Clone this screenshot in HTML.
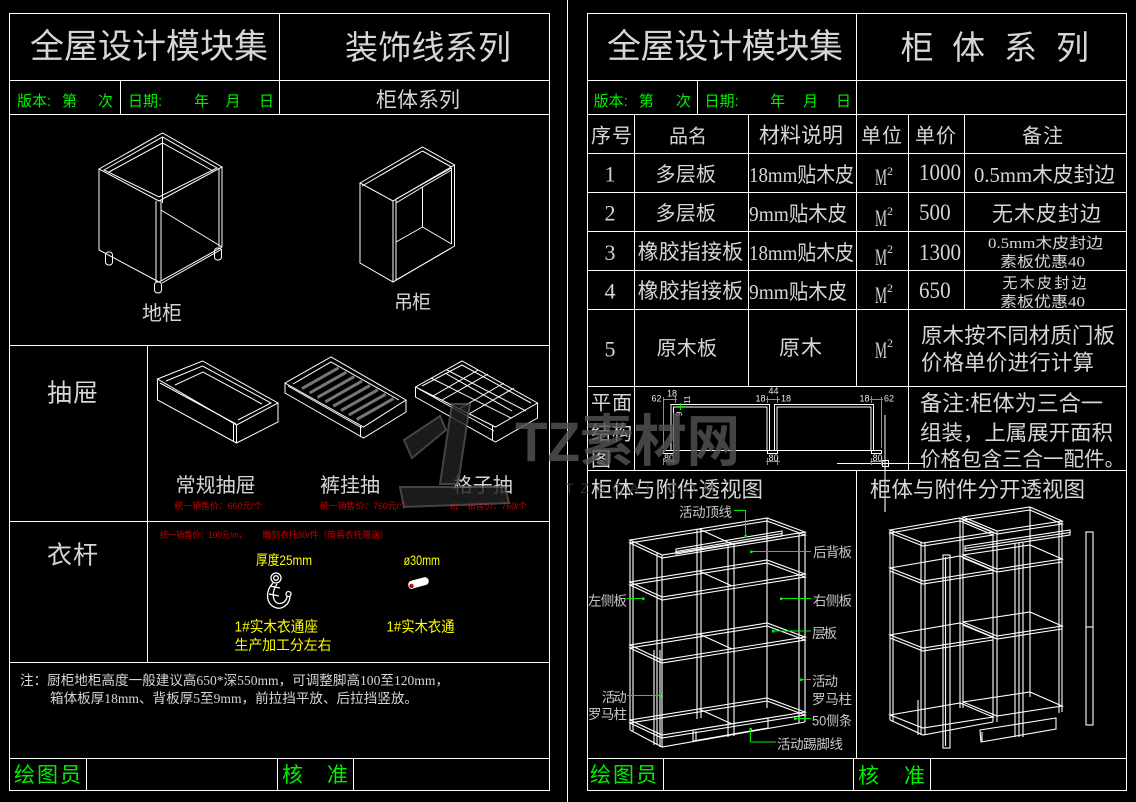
<!DOCTYPE html>
<html><head><meta charset="utf-8">
<style>
html,body{margin:0;padding:0;background:#000;}
svg{display:block;}
.w{fill:#d6d6d6;font-family:"Liberation Sans","Noto Sans CJK SC",sans-serif;}
.s{fill:#d6d6d6;font-family:"Liberation Serif","Noto Sans CJK SC",serif;}
.g{fill:#00f000;font-family:"Liberation Sans","Noto Sans CJK SC",sans-serif;}
.y{fill:#ffff00;font-family:"Liberation Sans","Noto Sans CJK SC",sans-serif;}
.r{fill:#c80000;font-family:"Liberation Sans","Noto Sans CJK SC",sans-serif;}
.l{fill:#c8c8c8;font-family:"Liberation Sans","Noto Sans CJK SC",sans-serif;}
.d{fill:#e8e8e8;font-family:"Liberation Sans",sans-serif;}
</style></head>
<body>
<svg width="1136" height="802" viewBox="0 0 1136 802" xmlns="http://www.w3.org/2000/svg">
<rect x="0" y="0" width="1136" height="802" fill="#000"/>

<!-- ===== frame lines ===== -->
<g stroke="#fff" stroke-width="1" fill="none">
<rect x="9.5" y="13.5" width="540" height="777"/>
<path d="M9 80.5H549 M9 114.5H549 M279.5 13V114 M120.5 80V114 M9 345.5H549 M147.5 345V662 M9 521.5H549 M9 662.5H549 M9 758.5H549 M86.5 758V790 M277.5 758V790 M353.5 758V790"/>
<path d="M567.5 0V802"/>
<rect x="587.5" y="13.5" width="539" height="777"/>
<path d="M587 80.5H1126 M587 114.5H1126 M856.5 13V114 M697.5 80V114 M587 153.5H1126 M587 192.5H1126 M587 231.5H1126 M587 270.5H1126 M587 309.5H1126 M587 386.5H1126 M634.5 114V470 M748.5 114V387 M856.5 114V387 M908.5 114V470 M964.5 114V309 M587 470.5H1126 M856.5 470V758 M587 758.5H1126 M663.5 758V790 M853.5 758V790 M930.5 758V790"/>
</g>

<!-- ===== 地柜 ===== -->
<g stroke="#fff" stroke-width="1" fill="none">
<path d="M99 169 L162.5 133 L222 167 L159 201 Z"/>
<path d="M104 170 L162.5 137 L217 168 L159 197 Z"/>
<path d="M109 172 L162.5 143 L213 171"/>
<path d="M99 169 V250 L159 282 L222 247 V167"/>
<path d="M156 201 V282 M161 200 V281"/>
<path d="M162 283 L222 249 M219 169 V247"/>
<path d="M162.5 137 V203 M161 210 L222 247"/>
<rect x="105.5" y="252" width="7" height="13" rx="3"/>
<rect x="154.5" y="282" width="7" height="11" rx="3"/>
<rect x="214.5" y="248" width="7" height="12" rx="3"/>
</g>

<!-- ===== 吊柜 ===== -->
<g stroke="#fff" stroke-width="1" fill="none">
<path d="M360 183 L422.5 147 L454.5 165 L393 201 Z"/>
<path d="M362 186 L422.5 151 L451.5 167 M396 199 L451.5 168"/>
<path d="M360 183 V263 L393 282 L454.5 246 V165"/>
<path d="M393 201 V282 M396 200 V280 M451.5 168 V244 M396 280 L451.5 248"/>
<path d="M422.5 187 V227 L396 242 M422.5 227 L451.5 244 M422.5 187 L451.5 170 M422.5 187 L396 203"/>
</g>

<!-- ===== drawers ===== -->
<g stroke="#fff" stroke-width="1" fill="none">
<path d="M157.5 379 L202.5 361 L278 403 L236.5 425 Z"/>
<path d="M157.5 379 V400 L236.5 443 L278 422 V403"/>
<path d="M233.5 424 V441 M236.5 425 V443 M160 383 L236 424"/>
<path d="M166 381 L202.5 366 L271 403 L238 420"/>
<path d="M175 385 L203 372 L262 404"/>
<path d="M285 383 L331 357 L406 400 L363.5 427 Z"/>
<path d="M285 383 V393 L363.5 438 L406 412 V400"/>
<path d="M360.5 426 V437 M288 386 L362 428 M293 384 L331 362 L399 400"/>
<path d="M415.5 387 L462 361 L537.5 403 L495.5 427 Z"/>
<path d="M415.5 387 V397 L495.5 442 L537.5 418 V403"/>
<path d="M492.5 426 V440 M419 389 L494 431 M422 386 L462 365 L531 403"/>
<path d="M431 378 L511 418 M447 370 L526 411 M442 400 L488 374 M469 414 L514 388"/>
<path d="M445 373 L512 411 M433 396 L478 370 M459 409 L504 383"/>
</g>
<g stroke="#777" stroke-width="3">
<path d="M302 388.6 L338.6 367.8 M309.6 393 L346.4 372.2 M317.5 397.4 L354.3 376.6 M325.3 401.8 L362.1 381 M333.2 406.2 L370 385.4 M341 410.6 L377.8 389.8 M348.9 415 L385.7 394.2 M356.7 419.4 L393.5 398.6"/>
</g>

<!-- ===== hook & rod ===== -->
<g stroke="#fff" stroke-width="1.3" fill="none">
<circle cx="276" cy="578" r="5"/><circle cx="276" cy="578" r="2.3"/>
<path d="M273 583 C266 590 265 602 274 607 C282 611 290 604 290 596"/>
<path d="M277 584 C272 591 272 600 277 603 C283 605 287 600 287 596"/>
<circle cx="288.5" cy="594" r="2.5"/>
<path d="M270 586 L280 588 M269 594 L279 596"/>
</g>
<g transform="rotate(-15 418 583)"><rect x="408" y="579" width="21" height="8" rx="4" fill="#fff"/></g>
<circle cx="411.5" cy="586" r="2.6" fill="#d00000" stroke="#fff" stroke-width="0.8"/>

<!-- ===== plan drawing ===== -->
<g stroke="#fff" stroke-width="1" fill="none">
<path d="M671 450V404.5H769.5V450 M673.5 450V407H767V450 M774.5 450V404.5H873.5V450 M777 450V407H871V450"/>
<path d="M663 450.5H882"/>
<rect x="663.5" y="450.5" width="10" height="3"/>
<rect x="767.5" y="450.5" width="10" height="3"/>
<rect x="871.5" y="450.5" width="10" height="3"/>
<path d="M885 415V512 M837 463.5H924"/>
<rect x="882.5" y="460.5" width="6" height="6"/>
</g>
<g stroke="#00f000" stroke-width="1" fill="none">
<path d="M663.5 397V448 M663.5 399.5H677 M881.5 397V448 M870 399.5H883 M766 399.5H780 M663 461.5H677 M766 461.5H780 M870 461.5H884"/>
<path d="M675.5 396V403 M767.5 396V403 M777.5 396V403 M871.5 396V403 M663.5 458V465 M673.5 458V465 M767.5 458V465 M777.5 458V465 M871.5 458V465 M881.5 458V465"/>
<path d="M677 406.5H685 M680.5 403V410"/>
</g>
<g class="d" font-size="9">
<text x="651.5" y="401.5">62</text>
<text x="667" y="396.5">18</text>
<text x="755.5" y="401.5">18</text>
<text x="768.5" y="394">44</text>
<text x="781" y="401.5">18</text>
<text x="859.5" y="401.5">18</text>
<text x="884" y="401.5">62</text>
<text x="664" y="461">80</text>
<text x="768.5" y="461">80</text>
<text x="872.5" y="461">80</text>
<text x="690" y="404" transform="rotate(-90 690 404)" font-size="8">11</text>
<text x="682" y="416" transform="rotate(-90 682 416)" font-size="8">9</text>
</g>

<!-- ===== wardrobe perspective (assembled) ===== -->
<g stroke="#fff" stroke-width="1.1" fill="none">
<path d="M630 540 L662 555 L805 532 L767 518 Z"/>
<path d="M630 543 L662 558 L805 535 L767 521 Z"/>
<path d="M630 540V730 M633 541V731 M657 553V745 M662 555V747 M697 529V719 M701 528V718 M728 545V737 M734 544V736 M767 518V708 M799 533V723 M805 532V722"/>
<path d="M630 582 L662 597 L805 574 L767 560 Z M630 585 L662 600 L805 577 L767 563 Z"/>
<path d="M630 645 L662 660 L805 637 L767 623 Z M630 648 L662 663 L805 640 L767 626 Z"/>
<path d="M630 720 L662 735 L805 712 L767 698 Z M630 723 L662 738 L805 715 L767 701 Z"/>
<path d="M630 730 L662 747 L805 722"/>
<path d="M699 529 L732 544 M699 571 L732 586 M699 634 L732 649 M699 709 L732 724"/>
<path d="M676 549 L782 531 L782 536 L676 554 Z M676 551.5 L782 533.5"/>
<path d="M693 730 L768 718 L768 728 L693 741 Z M696 731 V740"/>
<path d="M654 650 V745 M660 650 V747"/>
</g>
<g stroke="#00f000" stroke-width="1" fill="none">
<path d="M734 510.5H745.5V536 M751 551.5H811 M627 598.5H643 M781 598.5H811 M773 631H811 M801 679.5H811 M627 695.5H660 M795 718.5H811 M750.5 729V742H776"/>
</g>
<g fill="#00f000">
<rect x="744.5" y="535" width="2.5" height="2.5"/><rect x="750" y="550.5" width="2.5" height="2.5"/><rect x="642" y="597.5" width="2.5" height="2.5"/><rect x="780" y="597.5" width="2.5" height="2.5"/><rect x="772" y="630" width="2.5" height="2.5"/><rect x="800" y="678.5" width="2.5" height="2.5"/><rect x="659" y="694.5" width="2.5" height="2.5"/><rect x="794" y="717.5" width="2.5" height="2.5"/><rect x="749.5" y="728" width="2.5" height="2.5"/>
</g>

<!-- ===== wardrobe perspective (exploded) ===== -->
<g stroke="#fff" stroke-width="1.1" fill="none">
<path d="M890 530 L923 543 L993 532 L960 518 Z M890 533 L923 546 L993 535 L960 521 Z"/>
<path d="M890 530V720 M893 531V721 M921 542V735 M925 543V735 M960 518V708 M963 517V708 M993 532V722 M997 531V722"/>
<path d="M890 568 L923 581 L993 570 L960 556 Z M890 571 L923 584 L993 573"/>
<path d="M890 635 L923 648 L993 637 L960 623 Z M890 638 L923 651 L993 640"/>
<path d="M890 715 L923 728 L993 717 L960 703 Z"/>
<path d="M890 720 L923 735 L993 722"/>
<path d="M963 517 L997 531 L1062 521 L1030 507 Z M963 520 L997 534 L1062 524 L1030 510 Z"/>
<path d="M1030 507V697 M1059 522V713 M1062 521V712 M1015 543V737 M1019 543V737 M1023 543V737"/>
<path d="M963 555 L997 569 L1062 559 L1030 545 Z M963 558 L997 572 L1062 562"/>
<path d="M963 622 L997 636 L1062 626 L1030 612 Z M963 625 L997 639 L1062 629"/>
<path d="M963 702 L997 716 L1062 706 L1030 692 Z"/>
<rect x="943" y="555" width="7" height="193"/>
<path d="M945.5 557V746"/>
<rect x="1086" y="532" width="7" height="193"/>
<path d="M1086 627H1093"/>
<path d="M965 546 L1070 530 L1070 535 L965 551 Z M965 548.5 L1070 532.5"/>
<path d="M980 730 L1056 718 L1056 729 L981 742 Z M982 732 V741"/>
<path d="M918 700 V735 M885 500 V512"/>
</g>

<!-- ===== LEFT texts ===== -->
<text class="w" x="30" y="58" font-size="34" textLength="238">全屋设计模块集</text>
<text class="w" x="345" y="59" font-size="33" textLength="166">装饰线系列</text>
<g class="g" font-size="15">
<text x="17" y="106">版本:</text><text x="62" y="106">第</text><text x="98" y="106">次</text>
<text x="128" y="106">日期:</text><text x="194" y="106">年</text><text x="225.5" y="106">月</text><text x="259" y="106">日</text>
</g>
<text class="w" x="376" y="107" font-size="21" textLength="84">柜体系列</text>
<text class="w" x="142" y="320" font-size="20" textLength="40">地柜</text>
<text class="w" x="394" y="308.5" font-size="19" textLength="37">吊柜</text>
<text class="w" x="47" y="401.5" font-size="25" textLength="51">抽屉</text>
<text class="w" x="175.6" y="492" font-size="20" textLength="80">常规抽屉</text>
<text class="w" x="320" y="492" font-size="20" textLength="60">裤挂抽</text>
<text class="w" x="452.7" y="492" font-size="20" textLength="60">格子抽</text>
<text class="r" x="174.5" y="509" font-size="9" textLength="88" lengthAdjust="spacingAndGlyphs">统一销售价：660元/个</text>
<text class="r" x="320" y="509" font-size="9" textLength="88" lengthAdjust="spacingAndGlyphs">统一销售价：760元/个</text>
<text class="r" x="450" y="509" font-size="9" textLength="77" lengthAdjust="spacingAndGlyphs">统一销售价：760/个</text>
<text class="w" x="47" y="563.5" font-size="25" textLength="51">衣杆</text>
<text class="r" x="160" y="538" font-size="9" textLength="87" lengthAdjust="spacingAndGlyphs">统一销售价：100元/m，</text>
<text class="r" x="262.5" y="538" font-size="9" textLength="126" lengthAdjust="spacingAndGlyphs">雕刻衣托30/件（简易衣托赠送）</text>
<text class="y" x="256" y="565" font-size="14" textLength="56" lengthAdjust="spacingAndGlyphs">厚度25mm</text>
<text class="y" x="403.6" y="565" font-size="14" textLength="36.4" lengthAdjust="spacingAndGlyphs">ø30mm</text>
<text class="y" x="234.5" y="631.5" font-size="15" textLength="83.5" lengthAdjust="spacingAndGlyphs">1#实木衣通座</text>
<text class="y" x="234.5" y="650" font-size="14" textLength="97">生产加工分左右</text>
<text class="y" x="386.5" y="631.5" font-size="15" textLength="68" lengthAdjust="spacingAndGlyphs">1#实木衣通</text>
<text class="s" x="20" y="685" font-size="13.5" textLength="429" lengthAdjust="spacingAndGlyphs">注：厨柜地柜高度一般建议高650*深550mm，可调整脚高100至120mm，</text>
<text class="s" x="50" y="703" font-size="13.5" textLength="368" lengthAdjust="spacingAndGlyphs">箱体板厚18mm、背板厚5至9mm，前拉挡平放、后拉挡竖放。</text>
<text class="g" x="14" y="782" font-size="21" textLength="67">绘图员</text>
<text class="g" x="282" y="782" font-size="21">核</text>
<text class="g" x="327" y="782" font-size="21">准</text>

<!-- ===== RIGHT texts ===== -->
<text class="w" x="607" y="58" font-size="34" textLength="236">全屋设计模块集</text>
<g class="w" font-size="33">
<text x="900.6" y="59">柜</text><text x="952" y="59">体</text><text x="1004" y="59">系</text><text x="1056" y="59">列</text>
</g>
<g class="g" font-size="15">
<text x="593.6" y="106">版本:</text><text x="638.7" y="106">第</text><text x="676" y="106">次</text>
<text x="704.5" y="106">日期:</text><text x="770" y="106">年</text><text x="803" y="106">月</text><text x="836" y="106">日</text>
</g>
<text class="w" x="591" y="142.5" font-size="20" textLength="41">序号</text>
<text class="w" x="669" y="142.5" font-size="19" textLength="38">品名</text>
<text class="w" x="759" y="142.5" font-size="21" textLength="84">材料说明</text>
<text class="w" x="861" y="142.5" font-size="20" textLength="41">单位</text>
<text class="w" x="915" y="142.5" font-size="20" textLength="41">单价</text>
<text class="w" x="1022" y="142.5" font-size="20" textLength="41">备注</text>

<g class="s" font-size="22" text-anchor="middle">
<text x="610" y="181.5">1</text><text x="610" y="220.5">2</text><text x="610" y="260">3</text><text x="610" y="298.5">4</text><text x="610" y="356.5">5</text>
</g>
<text class="w" x="655.5" y="181" font-size="20" textLength="60.5">多层板</text>
<text class="w" x="655.5" y="220" font-size="20" textLength="60.5">多层板</text>
<text class="w" x="637.6" y="259" font-size="21" textLength="105.5">橡胶指接板</text>
<text class="w" x="637.6" y="298" font-size="21" textLength="105.5">橡胶指接板</text>
<text class="w" x="656.6" y="355" font-size="20" textLength="60.4">原木板</text>

<text class="s" x="749" y="182" font-size="21" textLength="105" lengthAdjust="spacingAndGlyphs">18mm贴木皮</text>
<text class="s" x="749" y="221" font-size="21" textLength="98" lengthAdjust="spacingAndGlyphs">9mm贴木皮</text>
<text class="s" x="749" y="260" font-size="21" textLength="105" lengthAdjust="spacingAndGlyphs">18mm贴木皮</text>
<text class="s" x="749" y="299" font-size="21" textLength="98" lengthAdjust="spacingAndGlyphs">9mm贴木皮</text>
<text class="w" x="779" y="355" font-size="21" textLength="43">原木</text>

<g class="s">
<text x="875" y="185" font-size="23" textLength="12" lengthAdjust="spacingAndGlyphs">M</text><text x="887" y="175" font-size="12">2</text>
<text x="875" y="226" font-size="23" textLength="12" lengthAdjust="spacingAndGlyphs">M</text><text x="887" y="215" font-size="12">2</text>
<text x="875" y="265" font-size="23" textLength="12" lengthAdjust="spacingAndGlyphs">M</text><text x="887" y="253" font-size="12">2</text>
<text x="875" y="303" font-size="23" textLength="12" lengthAdjust="spacingAndGlyphs">M</text><text x="887" y="292" font-size="12">2</text>
<text x="875" y="358" font-size="23" textLength="12" lengthAdjust="spacingAndGlyphs">M</text><text x="887" y="347" font-size="12">2</text>
</g>
<g class="s" font-size="23">
<text x="919" y="180" textLength="42" lengthAdjust="spacingAndGlyphs">1000</text>
<text x="919" y="220" textLength="31.6" lengthAdjust="spacingAndGlyphs">500</text>
<text x="919" y="260" textLength="42" lengthAdjust="spacingAndGlyphs">1300</text>
<text x="919" y="298" textLength="31.6" lengthAdjust="spacingAndGlyphs">650</text>
</g>
<text class="s" x="974" y="182" font-size="21" textLength="141" lengthAdjust="spacingAndGlyphs">0.5mm木皮封边</text>
<text class="w" x="992" y="221" font-size="21" textLength="109">无木皮封边</text>
<text class="s" x="988" y="248" font-size="15" textLength="115" lengthAdjust="spacingAndGlyphs">0.5mm木皮封边</text>
<text class="s" x="1000" y="266.5" font-size="15" textLength="85" lengthAdjust="spacingAndGlyphs">素板优惠40</text>
<text class="w" x="1002.5" y="288" font-size="15" textLength="84">无木皮封边</text>
<text class="s" x="1000" y="306.5" font-size="15" textLength="85" lengthAdjust="spacingAndGlyphs">素板优惠40</text>
<text class="w" x="921" y="343" font-size="21.5" textLength="194">原木按不同材质门板</text>
<text class="w" x="921" y="370" font-size="21.5" textLength="173">价格单价进行计算</text>

<text class="w" x="591" y="409.5" font-size="20" textLength="41">平面</text>
<text class="w" x="591" y="439.5" font-size="20" textLength="41">结构</text>
<text class="w" x="591" y="466" font-size="20">图</text>
<text class="w" x="920" y="411" font-size="22" textLength="183" lengthAdjust="spacingAndGlyphs">备注:柜体为三合一</text>
<text class="w" x="920" y="440" font-size="21" textLength="193" lengthAdjust="spacingAndGlyphs">组装，上属展开面积</text>
<text class="w" x="920" y="466" font-size="20.5" textLength="205" lengthAdjust="spacingAndGlyphs">价格包含三合一配件。</text>

<text class="w" x="591" y="497" font-size="21.5" textLength="172">柜体与附件透视图</text>
<text class="w" x="870" y="497" font-size="21.5" textLength="215">柜体与附件分开透视图</text>

<g class="l" font-size="13.5">
<text x="679" y="517" textLength="53">活动顶线</text>
<text x="813" y="557" textLength="39">后背板</text>
<text x="588" y="605.5" textLength="39">左侧板</text>
<text x="813" y="605.5" textLength="39">右侧板</text>
<text x="812" y="638" textLength="25">层板</text>
<text x="812" y="686" textLength="26">活动</text>
<text x="812" y="704" textLength="40">罗马柱</text>
<text x="601.7" y="702" textLength="25">活动</text>
<text x="588" y="719" textLength="39">罗马柱</text>
<text x="812" y="725.5" textLength="40" lengthAdjust="spacingAndGlyphs">50侧条</text>
<text x="777" y="749" textLength="66">活动踢脚线</text>
</g>

<text class="g" x="590" y="782" font-size="21" textLength="67">绘图员</text>
<text class="g" x="858" y="783" font-size="21">核</text>
<text class="g" x="904" y="783" font-size="21">准</text>

<!-- ===== watermark ===== -->
<g opacity="0.8">
<polygon points="452,404 470,404 458,484 440,484" fill="#222" stroke="#555" stroke-width="2"/>
<polygon points="404,440 440,416 446,430 412,458" fill="#222" stroke="#555" stroke-width="2"/>
<polygon points="400,487 505,487 509,503 404,507" fill="#222" stroke="#555" stroke-width="2"/>
<text x="515" y="461" font-size="56" font-weight="bold" fill="#555" font-family="Liberation Sans,'Noto Sans CJK SC',sans-serif" textLength="225" lengthAdjust="spacingAndGlyphs">TZ素材网</text>
<text x="565" y="493" font-size="14" fill="#3e3e3e" font-family="Liberation Sans,sans-serif" letter-spacing="7">TZSCAI.COM</text>
</g>
</svg>
</body></html>
